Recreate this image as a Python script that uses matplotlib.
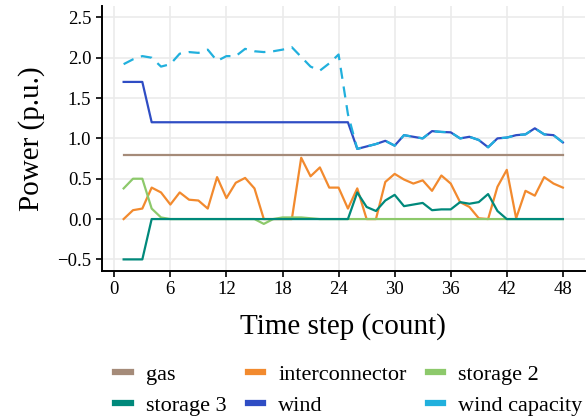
import numpy as np
import matplotlib
matplotlib.use("Agg")
import matplotlib.pyplot as plt
from matplotlib.lines import Line2D

plt.rcParams['font.family'] = ['Liberation Serif', 'DejaVu Serif']

# time steps 1..48
steps = list(range(1, 49))

gas = [0.8] * 48

interconnector = [0.00, 0.11, 0.13, 0.39, 0.33, 0.18, 0.33, 0.24, 0.23, 0.13,
                  0.52, 0.26, 0.45, 0.51, 0.38, 0.00, 0.00, 0.00, 0.00, 0.76,
                  0.53, 0.64, 0.39, 0.39, 0.13, 0.38, 0.00, 0.00, 0.46, 0.56,
                  0.49, 0.44, 0.48, 0.35, 0.54, 0.44, 0.21, 0.15, 0.01, 0.00,
                  0.40, 0.61, 0.01, 0.35, 0.29, 0.52, 0.44, 0.39]

storage_2 = [0.38, 0.50, 0.50, 0.13, 0.02, 0.00, 0.00, 0.00, 0.00, 0.00,
             0.00, 0.00, 0.00, 0.00, 0.00, -0.06, 0.00, 0.02, 0.02, 0.02,
             0.01, 0.00, 0.00, 0.00, 0.00] + [0.00] * 23

storage_3 = [-0.50, -0.50, -0.50] + [0.00] * 22 + \
            [0.33, 0.15, 0.10, 0.23, 0.30, 0.16, 0.18, 0.20, 0.11, 0.12,
             0.12, 0.21, 0.19, 0.21, 0.31, 0.10, 0.00, 0.00, 0.00, 0.00,
             0.00, 0.00, 0.00]

wind = [1.70, 1.70, 1.70] + [1.20] * 22 + \
       [0.87, 0.90, 0.93, 0.97, 0.91, 1.04, 1.02, 1.00, 1.09, 1.08,
        1.075, 1.00, 1.02, 0.98, 0.89, 1.00, 1.01, 1.04, 1.05, 1.125,
        1.05, 1.04, 0.95]

wind_capacity = [1.92, 1.98, 2.02, 2.00, 1.89, 1.92, 2.05, 2.07, 2.06, 2.10,
                 1.96, 2.02, 2.02, 2.11, 2.08, 2.07, 2.08, 2.10, 2.13, 2.01,
                 1.89, 1.84, 1.93, 2.04, 1.30] + wind[25:]

colors = {
    'gas': '#a58b79',
    'interconnector': '#f28a2e',
    'storage 2': '#8dc96b',
    'storage 3': '#00897b',
    'wind': '#2f4dc4',
    'wind capacity': '#21b0dd',
}

fig = plt.figure(figsize=(5.86, 4.2), dpi=100)
ax = fig.add_axes([0.1735, 0.3555, 0.8245, 0.630])

lw = 1.6
ax.plot(steps, gas, color=colors['gas'], lw=lw)
ax.plot(steps, interconnector, color=colors['interconnector'], lw=lw)
ax.plot(steps, storage_2, color=colors['storage 2'], lw=lw)
ax.plot(steps, storage_3, color=colors['storage 3'], lw=lw)
ax.plot(steps, wind, color=colors['wind'], lw=lw)
ax.plot(steps, wind_capacity, color=colors['wind capacity'], lw=lw,
        dashes=(5, 3.5))

ax.set_xlim(1 - 2.35, 48 + 2.35)
ax.set_ylim(-0.64, 2.64)
ax.set_xticks(range(0, 49, 6))
ax.set_yticks([-0.5, 0.0, 0.5, 1.0, 1.5, 2.0, 2.5])
ax.set_yticklabels(['\u22120.5', '0.0', '0.5', '1.0', '1.5', '2.0', '2.5'])

ax.grid(True, color='#ebebeb', lw=1.2)
ax.set_axisbelow(True)
for s in ['top', 'right']:
    ax.spines[s].set_visible(False)
for s in ['left', 'bottom']:
    ax.spines[s].set_linewidth(1.4)
ax.tick_params(length=4, width=1.2, labelsize=13.5, colors='black')

ax.set_xlabel('Time step (count)', fontsize=21, labelpad=11)
ax.set_ylabel('Power (p.u.)', fontsize=21, labelpad=9)

# legend: row-major order in 3 columns
names = ['gas', 'interconnector', 'storage 2', 'storage 3', 'wind', 'wind capacity']
order = [0, 3, 1, 4, 2, 5]
handles = [Line2D([], [], color=colors[names[i]], lw=4.5) for i in order]
labels = [names[i] for i in order]
fig.legend(handles, labels, loc='upper left', bbox_to_anchor=(0.197, 0.132),
           ncol=3, frameon=False, fontsize=16, handlelength=0.68,
           handletextpad=0.68, columnspacing=0.97, labelspacing=0.45,
           borderpad=0, borderaxespad=0)

fig.savefig('out.png', dpi=100)
